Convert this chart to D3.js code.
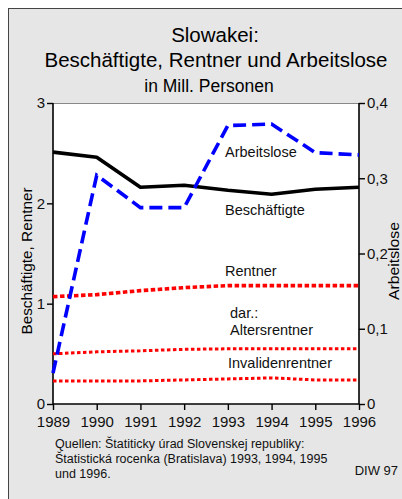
<!DOCTYPE html>
<html>
<head>
<meta charset="utf-8">
<script src="https://cdn.jsdelivr.net/npm/d3@7"></script>
<style>
  body { margin: 0; background: #fff; }
  svg { display: block; font-family: "Liberation Sans", Arial, sans-serif; }
</style>
</head>
<body>
<div id="chart"></div>
<script>
/* DATA */
const years = [1989, 1990, 1991, 1992, 1993, 1994, 1995, 1996];
const beschaeftigte = [2.51, 2.46, 2.16, 2.18, 2.13, 2.09, 2.14, 2.16];
const rentner = [1.07, 1.09, 1.13, 1.16, 1.18, 1.18, 1.18, 1.18];
const altersrentner = [0.50, 0.52, 0.53, 0.545, 0.55, 0.55, 0.55, 0.55];
const invalidenrentner = [0.23, 0.23, 0.23, 0.24, 0.25, 0.26, 0.24, 0.24];
const arbeitslose = [0.041, 0.304, 0.261, 0.261, 0.370, 0.372, 0.334, 0.331];
const leftTicks = [0, 1, 2, 3];
const rightTicks = [0, 0.1, 0.2, 0.3, 0.4];

/* CONSTANTS */
const width = 402, height = 499;
const margin = { top: 103, left: 53, right: 43, bottom: 95 };
const innerW = width - margin.left - margin.right;
const innerH = height - margin.top - margin.bottom;

const svg = d3.select("#chart").append("svg")
  .attr("width", width)
  .attr("height", height);

// frame
svg.append("rect")
  .attr("x", 8.5).attr("y", 8.5)
  .attr("width", width).attr("height", height)
  .attr("fill", "#e6e6e6")
  .attr("stroke", "#444")
  .attr("stroke-width", 1);

// titles
svg.append("text").attr("x", 215).attr("y", 42)
  .attr("text-anchor", "middle").attr("font-size", 20.5).text("Slowakei:");
svg.append("text").attr("x", 216).attr("y", 67)
  .attr("text-anchor", "middle").attr("font-size", 20.5).text("Beschäftigte, Rentner und Arbeitslose");
svg.append("text").attr("x", 209).attr("y", 92)
  .attr("text-anchor", "middle").attr("font-size", 17.5).text("in Mill. Personen");

/* SCALES */
const x = d3.scaleLinear().domain([1989, 1996]).range([0, innerW]);
const yL = d3.scaleLinear().domain([0, 3]).range([innerH, 0]);
const yR = d3.scaleLinear().domain([0, 0.4]).range([innerH, 0]);

const g = svg.append("g").attr("transform", `translate(${margin.left},${margin.top})`);

g.append("rect")
  .attr("width", innerW).attr("height", innerH)
  .attr("fill", "#fff");
g.append("line")
  .attr("x1", 0).attr("x2", innerW).attr("y1", 0.5).attr("y2", 0.5)
  .attr("stroke", "#888").attr("stroke-width", 1);

/* AXES */
const fmtR = v => d3.format(".1f")(v).replace(".", ",");

const axL = g.append("g")
  .call(d3.axisLeft(yL).tickValues(leftTicks).tickSize(6).tickPadding(2).tickFormat(d3.format("d")));
const axR = g.append("g").attr("transform", `translate(${innerW},0)`)
  .call(d3.axisRight(yR).tickValues(rightTicks).tickSize(6).tickPadding(2).tickFormat(v => v === 0 ? "0" : fmtR(v)));
const axB = g.append("g").attr("transform", `translate(0,${innerH})`)
  .call(d3.axisBottom(x).tickValues(years).tickSize(6).tickPadding(6).tickFormat(d3.format("d")));

[axL, axR, axB].forEach(a => {
  a.select(".domain").attr("stroke", "#000").attr("stroke-width", 1.6);
  a.selectAll(".tick line").attr("stroke", "#000").attr("stroke-width", 1.4);
  a.selectAll(".tick text").attr("font-size", 15).attr("fill", "#111")
    .attr("font-family", "Liberation Sans, Arial, sans-serif");
});
axL.select(".domain").attr("d", `M0,0V${innerH}`);
axR.select(".domain").attr("d", `M0,0V${innerH}`);
axB.select(".domain").attr("d", `M0,0H${innerW}`);

/* LINES */
const lineL = d3.line().x((d, i) => x(years[i])).y(d => yL(d));
const lineR = d3.line().x((d, i) => x(years[i])).y(d => yR(d));

g.append("path").datum(invalidenrentner).attr("d", lineL)
  .attr("fill", "none").attr("stroke", "#ff0000").attr("stroke-width", 3).attr("stroke-dasharray", "3.5,2.5");
g.append("path").datum(altersrentner).attr("d", lineL)
  .attr("fill", "none").attr("stroke", "#ff0000").attr("stroke-width", 3).attr("stroke-dasharray", "3.5,2.5");
g.append("path").datum(rentner).attr("d", lineL)
  .attr("fill", "none").attr("stroke", "#ff0000").attr("stroke-width", 3.6).attr("stroke-dasharray", "4.5,2.5");
g.append("path").datum(beschaeftigte).attr("d", lineL)
  .attr("fill", "none").attr("stroke", "#000").attr("stroke-width", 3.6).attr("stroke-linejoin", "round");
g.append("path").datum(arbeitslose).attr("d", lineR)
  .attr("fill", "none").attr("stroke", "#0000ff").attr("stroke-width", 3.6).attr("stroke-dasharray", "13,6");

/* SERIES LABELS */
const labels = [
  { t: "Arbeitslose", x: 225, y: 157 },
  { t: "Beschäftigte", x: 225, y: 215 },
  { t: "Rentner", x: 225, y: 276 },
  { t: "dar.:", x: 230, y: 318 },
  { t: "Altersrentner", x: 230, y: 335 },
  { t: "Invalidenrentner", x: 228, y: 368 }
];
svg.selectAll("text.lbl").data(labels).join("text")
  .attr("class", "lbl")
  .attr("x", d => d.x).attr("y", d => d.y)
  .attr("font-size", 14.5).attr("fill", "#111")
  .text(d => d.t);

/* AXIS TITLES */
svg.append("text")
  .attr("transform", "translate(32,261) rotate(-90)")
  .attr("text-anchor", "middle").attr("font-size", 15)
  .attr("textLength", 147).attr("lengthAdjust", "spacingAndGlyphs")
  .text("Beschäftigte, Rentner");
svg.append("text")
  .attr("transform", "translate(399,261) rotate(-90)")
  .attr("text-anchor", "middle").attr("font-size", 15)
  .attr("textLength", 78).attr("lengthAdjust", "spacingAndGlyphs")
  .text("Arbeitslose");

/* SOURCES */
const notes = [
  "Quellen: Štatiticky úrad Slovenskej republiky:",
  "Štatistická rocenka (Bratislava) 1993, 1994, 1995",
  "und 1996."
];
svg.selectAll("text.note").data(notes).join("text")
  .attr("class", "note")
  .attr("x", 55).attr("y", (d, i) => 448 + i * 15)
  .attr("font-size", 12.5).attr("fill", "#111")
  .text(d => d);
svg.append("text").attr("x", 398).attr("y", 475)
  .attr("text-anchor", "end").attr("font-size", 13).attr("fill", "#111")
  .text("DIW 97");
</script>
</body>
</html>
